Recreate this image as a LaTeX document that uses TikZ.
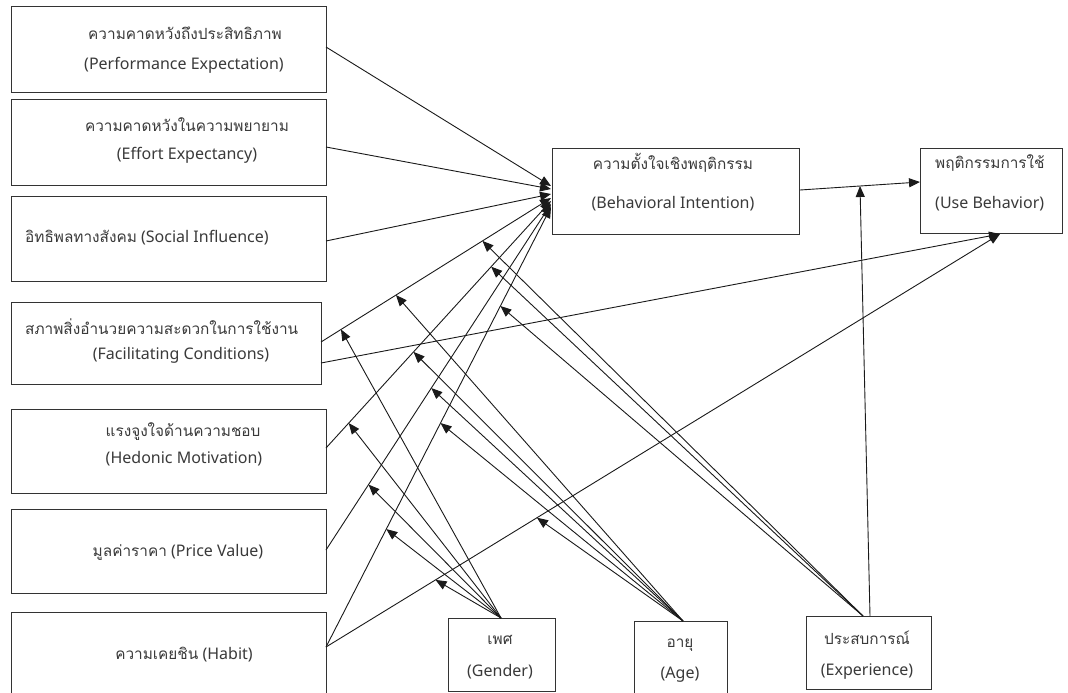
\documentclass[tikz,border=0pt]{standalone}
\usepackage{fontspec}
\setmainfont{Noto Sans}
\newfontfamily\thai[Script=Thai,Scale=0.96]{Loma}
\usetikzlibrary{arrows.meta}
\definecolor{txt}{HTML}{3A3A3A}
\definecolor{bord}{HTML}{333333}
\definecolor{ln}{HTML}{1A1A1A}
\begin{document}
\begin{tikzpicture}[x=1pt,y=-1pt,
  box/.style={draw=bord,line width=1pt,inner sep=0pt,outer sep=0pt,anchor=north west},
  lbl/.style={text=txt,font=\fontsize{16}{18}\selectfont,inner sep=0pt,anchor=center},
  lblw/.style={lbl,anchor=west},
  conn/.style={draw=ln,line width=0.9pt,-{Triangle[length=11pt,width=9pt]}}
]
\useasboundingbox (0,0) rectangle (1068,693);
\clip (0,0) rectangle (1068,693);
\fill[white] (0,0) rectangle (1068,693);

% boxes
\node[box,minimum width=315pt,minimum height=85pt] (pe) at (11,7) {};
\node[box,minimum width=315pt,minimum height=86pt] (ee) at (11,99) {};
\node[box,minimum width=315pt,minimum height=85pt] (si) at (11,196) {};
\node[box,minimum width=310pt,minimum height=82pt] (fc) at (11,302) {};
\node[box,minimum width=315pt,minimum height=84pt] (hm) at (11,409) {};
\node[box,minimum width=315pt,minimum height=84pt] (pv) at (11,509) {};
\node[box,minimum width=315pt,minimum height=110pt] (hb) at (11,612) {};
\node[box,minimum width=247pt,minimum height=86pt] (bi) at (552,148) {};
\node[box,minimum width=142pt,minimum height=85pt] (ub) at (920,148) {};
\node[box,minimum width=107pt,minimum height=73pt] (gd) at (448,618) {};
\node[box,minimum width=93pt,minimum height=100pt] (ag) at (634,621) {};
\node[box,minimum width=125pt,minimum height=73pt] (ex) at (806,616) {};

% texts
\node[lbl] (pe-a) at (185,33) {\thai ความคาดหวังถึงประสิทธิภาพ};
\node[lbl] (pe-b) at (184,65) {(Performance Expectation)};
\node[lbl] (ee-a) at (187,125) {\thai ความคาดหวังในความพยายาม};
\node[lbl] (ee-b) at (187,155) {(Effort Expectancy)};
\node[lblw] (si-a) at (25,238) {{\thai อิทธิพลทางสังคม} (Social Influence)};
\node[lblw] (fc-a) at (25,327) {\thai สภาพสิ่งอำนวยความสะดวกในการใช้งาน};
\node[lbl] (fc-b) at (181,355) {(Facilitating Conditions)};
\node[lbl] (hm-a) at (183,432) {\thai แรงจูงใจด้านความชอบ};
\node[lbl] (hm-b) at (184,459) {(Hedonic Motivation)};
\node[lbl] (pv-a) at (178,552) {{\thai มูลค่าราคา} (Price Value)};
\node[lbl] (hb-a) at (184,655) {{\thai ความเคยชิน} (Habit)};
\node[lbl] (bi-a) at (673,163) {\thai ความตั้งใจเชิงพฤติกรรม};
\node[lbl] (bi-b) at (673,204) {(Behavioral Intention)};
\node[lblw] (ub-a) at (935,163) {\thai พฤติกรรมการใช้};
\node[lblw] (ub-b) at (935,204) {(Use Behavior)};
\node[lbl] (gd-a) at (500,640) {\thai เพศ};
\node[lbl] (gd-b) at (500,672) {(Gender)};
\node[lbl] (ag-a) at (680,645) {\thai อายุ};
\node[lbl] (ag-b) at (680,675) {(Age)};
\node[lbl] (ex-a) at (867,638) {\thai ประสบการณ์};
\node[lbl] (ex-b) at (867,672) {(Experience)};

% attachment points
\coordinate (pe-o) at (326,47);
\coordinate (ee-o) at (326,147);
\coordinate (si-o) at (326,241);
\coordinate (fc-o1) at (321,342);
\coordinate (fc-o2) at (321,363);
\coordinate (hm-o) at (326,448);
\coordinate (pv-o) at (326,550);
\coordinate (hb-o) at (326,647);
\coordinate (bi-1) at (551,186);
\coordinate (bi-2) at (551,189);
\coordinate (bi-3) at (551,194);
\coordinate (bi-4) at (551,198);
\coordinate (bi-5) at (551,201);
\coordinate (bi-6) at (551,204);
\coordinate (bi-7) at (551,207);
\coordinate (bi-out) at (800,190);
\coordinate (ub-w) at (920,182);
\coordinate (ub-in) at (1000,234);
\coordinate (gd-t) at (501,618);
\coordinate (ag-t) at (683,621);
\coordinate (ex-t1) at (863,616);
\coordinate (ex-t2) at (870,616);

% predictor paths
\draw[conn] (pe-o) -- (bi-1);
\draw[conn] (ee-o) -- (bi-2);
\draw[conn] (si-o) -- (bi-3);
\draw[conn] (fc-o1) -- (bi-4);
\draw[conn] (hm-o) -- (bi-5);
\draw[conn] (pv-o) -- (bi-6);
\draw[conn] (hb-o) -- (bi-7);
\draw[conn] (fc-o2) -- (ub-in);
\draw[conn] (hb-o) -- (ub-in);
\draw[conn] (bi-out) -- (ub-w);

% moderator targets
\path (fc-o1) -- (bi-4) coordinate[pos=0.087] (fc-g) coordinate[pos=0.326] (fc-ag) coordinate[pos=0.702] (fc-e);
\path (hm-o) -- (bi-5) coordinate[pos=0.101] (hm-g) coordinate[pos=0.389] (hm-ag) coordinate[pos=0.734] (hm-e);
\path (pv-o) -- (bi-6) coordinate[pos=0.189] (pv-g) coordinate[pos=0.468] (pv-ag);
\path (hb-o) -- (bi-7) coordinate[pos=0.268] (hb-g) coordinate[pos=0.509] (hb-ag) coordinate[pos=0.775] (hb-e);
\path (hb-o) -- (ub-in) coordinate[pos=0.1625] (hu-g) coordinate[pos=0.313] (hu-ag);
\path (bi-out) -- (ub-w) coordinate[pos=0.5] (bu-e);

% gender
\draw[conn] (gd-t) -- (fc-g);
\draw[conn] (gd-t) -- (hm-g);
\draw[conn] (gd-t) -- (pv-g);
\draw[conn] (gd-t) -- (hb-g);
\draw[conn] (gd-t) -- (hu-g);
% age
\draw[conn] (ag-t) -- (fc-ag);
\draw[conn] (ag-t) -- (hm-ag);
\draw[conn] (ag-t) -- (pv-ag);
\draw[conn] (ag-t) -- (hb-ag);
\draw[conn] (ag-t) -- (hu-ag);
% experience
\draw[conn] (ex-t1) -- (fc-e);
\draw[conn] (ex-t1) -- (hm-e);
\draw[conn] (ex-t1) -- (hb-e);
\draw[conn] (ex-t2) -- (bu-e);
\end{tikzpicture}
\end{document}
